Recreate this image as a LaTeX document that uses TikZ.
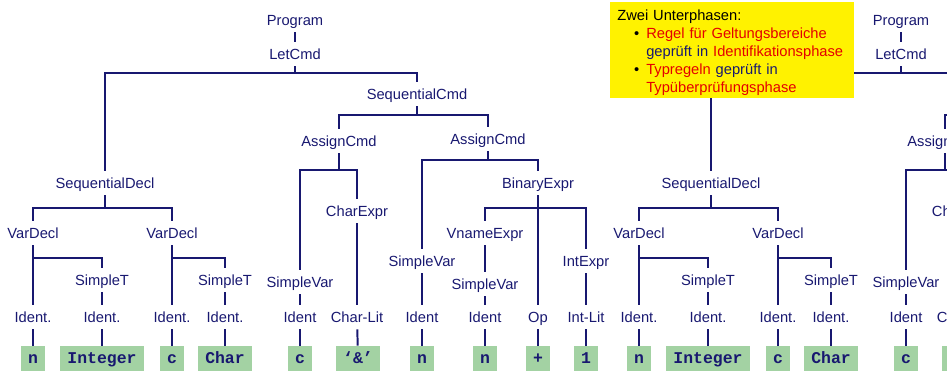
\documentclass[tikz,border=0pt]{standalone}
\usepackage{fontspec}
\setmainfont{Liberation Sans}
\setmonofont{Liberation Mono}
\definecolor{treeblue}{RGB}{24,24,112}
\definecolor{leafgreen}{RGB}{163,210,163}
\definecolor{notered}{RGB}{228,0,0}
\tikzset{
  sym/.style={text=treeblue, font=\fontsize{10.45}{12}\selectfont,
    text height=7.5pt, text depth=0pt, inner xsep=2pt, inner ysep=4.8pt},
  leaf/.style={fill=leafgreen, text=treeblue,
    font=\ttfamily\bfseries\fontsize{11.7}{12}\selectfont,
    text height=6.7pt, text depth=0pt, minimum height=17.8pt, inner xsep=5pt},
  branch/.style={draw=treeblue, line width=1.4pt},
  notetext/.style={font=\fontsize{10.45}{12.8}\selectfont, text=black,
    inner sep=0pt, text width=170pt, align=left}
}
\begin{document}
\begin{tikzpicture}[x=0.025cm, y=-0.025cm]
  \useasboundingbox (0,0) rectangle (947,371);
  \clip (0,0) rectangle (947,371);
  % the tree, and its copy on the right
  \foreach \t/\dx in {l/0,r/606}{
    \begin{scope}[shift={(\dx,0)}]
      \draw
        (295,20) node[sym] (\t-prog){Program}
        (295,54) node[sym] (\t-let){LetCmd}
        (105,183) node[sym] (\t-sdecl){SequentialDecl}
        (33,233) node[sym] (\t-vd1){VarDecl}
        (102,280) node[sym] (\t-st1){SimpleT}
        (33,317) node[sym] (\t-id1){Ident.}
        (102,317) node[sym] (\t-id2){Ident.}
        (172,233) node[sym] (\t-vd2){VarDecl}
        (225,280) node[sym] (\t-st2){SimpleT}
        (172,317) node[sym] (\t-id3){Ident.}
        (225,317) node[sym] (\t-id4){Ident.}
        (417,94) node[sym] (\t-scmd){SequentialCmd}
        (339,141) node[sym] (\t-as1){AssignCmd}
        (300,282) node[sym] (\t-sv1){SimpleVar}
        (300,317) node[sym] (\t-id5){Ident}
        (357,211) node[sym] (\t-cexp){CharExpr}
        (357,317) node[sym] (\t-clit){Char-Lit}
        (488,139) node[sym] (\t-as2){AssignCmd}
        (422,261) node[sym] (\t-sv2){SimpleVar}
        (422,317) node[sym] (\t-id6){Ident}
        (538,183) node[sym] (\t-bin){BinaryExpr}
        (485,233) node[sym] (\t-vne){VnameExpr}
        (485,284) node[sym] (\t-sv3){SimpleVar}
        (485,317) node[sym] (\t-id7){Ident}
        (538,317) node[sym] (\t-op){Op}
        (586,261) node[sym] (\t-iexp){IntExpr}
        (586,317) node[sym] (\t-ilit){Int-Lit};
      \draw
        (33,358.5) node[leaf] (\t-b1){n}
        (102,358.5) node[leaf] (\t-b2){Integer}
        (172,358.5) node[leaf] (\t-b3){c}
        (225,358.5) node[leaf] (\t-b4){Char}
        (300,358.5) node[leaf] (\t-b5){c}
        (358,358.5) node[leaf] (\t-b6){‘\&’}
        (422,358.5) node[leaf] (\t-b7){n}
        (485,358.5) node[leaf] (\t-b8){n}
        (538,358.5) node[leaf] (\t-b9){+}
        (586,358.5) node[leaf] (\t-b10){1};
      \begin{scope}[branch]
        \draw (\t-prog) to (\t-let);
        \draw (\t-let.south) -- ++(0,7) -| (\t-sdecl.north);
        \draw (\t-let.south) -- ++(0,7) -| (\t-scmd.north);
        \draw (\t-sdecl.south) -- ++(0,13) -| (\t-vd1.north);
        \draw (\t-sdecl.south) -- ++(0,13) -| (\t-vd2.north);
        \draw (\t-vd1.south) -- ++(0,13) -| (\t-st1.north);
        \draw (\t-vd1) to (\t-id1);
        \draw (\t-st1) to (\t-id2);
        \draw (\t-vd2.south) -- ++(0,13) -| (\t-st2.north);
        \draw (\t-vd2) to (\t-id3);
        \draw (\t-st2) to (\t-id4);
        \draw (\t-scmd.south) -- ++(0,9) -| (\t-as1.north);
        \draw (\t-scmd.south) -- ++(0,9) -| (\t-as2.north);
        \draw (\t-as1.south) -- ++(0,17) -| (\t-sv1.north);
        \draw (\t-as1.south) -- ++(0,17) -| (\t-cexp.north);
        \draw (\t-sv1) to (\t-id5);
        \draw (\t-cexp) to (\t-clit);
        \draw (\t-as2.south) -- ++(0,9) -| (\t-sv2.north);
        \draw (\t-as2.south) -- ++(0,9) -| (\t-bin.north);
        \draw (\t-sv2) to (\t-id6);
        \draw (\t-bin.south) -- ++(0,13) -| (\t-vne.north);
        \draw (\t-bin.south) -- ++(0,13) -| (\t-op.north);
        \draw (\t-bin.south) -- ++(0,13) -| (\t-iexp.north);
        \draw (\t-vne) to (\t-sv3);
        \draw (\t-sv3) to (\t-id7);
        \draw (\t-iexp) to (\t-ilit);
        \draw (\t-id1) to (\t-b1);
        \draw (\t-id2) to (\t-b2);
        \draw (\t-id3) to (\t-b3);
        \draw (\t-id4) to (\t-b4);
        \draw (\t-id5) to (\t-b5);
        \draw (\t-clit) to (\t-b6);
        \draw (\t-id6) to (\t-b7);
        \draw (\t-id7) to (\t-b8);
        \draw (\t-op) to (\t-b9);
        \draw (\t-ilit) to (\t-b10);
      \end{scope}
    \end{scope}
  }
  % note box
  \fill[yellow] (610,2) rectangle (854,98);
  \node[notetext, anchor=base west] (note) at (617,20.3) {Zwei Unterphasen:\\
    \hspace*{12pt}\makebox[8.6pt][l]{•}\textcolor{notered}{Regel für Geltungsbereiche}\\
    \hspace*{20.6pt}\textcolor{treeblue}{geprüft in} \textcolor{notered}{Identifikationsphase}\\
    \hspace*{12pt}\makebox[8.6pt][l]{•}\textcolor{notered}{Typregeln} \textcolor{treeblue}{geprüft in}\\
    \hspace*{20.6pt}\textcolor{notered}{Typüberprüfungsphase}};
\end{tikzpicture}
\end{document}
